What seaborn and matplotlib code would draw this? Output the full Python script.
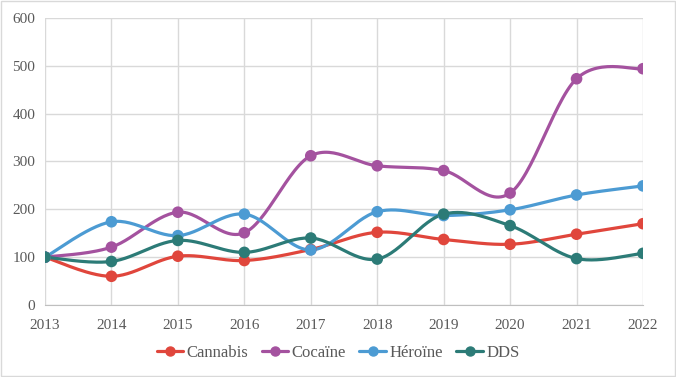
import numpy as np
import pandas as pd
import seaborn as sns
import matplotlib.pyplot as plt
from matplotlib.lines import Line2D

years = [2013, 2014, 2015, 2016, 2017, 2018, 2019, 2020, 2021, 2022]
cannabis = [100, 60, 102, 93, 116, 152, 137, 127, 148, 170]
cocaine = [100, 121, 194, 151, 312, 291, 281, 234, 473, 494]
heroine = [100, 174, 145, 190, 115, 195, 187, 199, 230, 249]
dds = [100, 91, 135, 110, 140, 96, 190, 166, 97, 108]

names = ["Cannabis", "Cocaïne", "Héroïne", "DDS"]
colors = ["#E0463C", "#A4529F", "#4C9BD3", "#2C7B77"]


def smooth(x, y, n=30):
    # Excel-like smoothed line (Catmull-Rom bezier through the points)
    x = np.asarray(x, float)
    y = np.asarray(y, float)
    px = np.concatenate([[x[0]], x, [x[-1]]])
    py = np.concatenate([[y[0]], y, [y[-1]]])
    xs, ys = [], []
    t = np.linspace(0, 1, n)
    for i in range(1, len(px) - 2):
        p0 = np.array([px[i], py[i]])
        p3 = np.array([px[i + 1], py[i + 1]])
        c1 = p0 + (p3 - np.array([px[i - 1], py[i - 1]])) / 6
        c2 = p3 - (np.array([px[i + 2], py[i + 2]]) - p0) / 6
        b = ((1 - t) ** 3)[:, None] * p0 + (3 * (1 - t) ** 2 * t)[:, None] * c1 \
            + (3 * (1 - t) * t ** 2)[:, None] * c2 + (t ** 3)[:, None] * p3
        xs.extend(b[:, 0])
        ys.extend(b[:, 1])
    return xs, ys


series = [cannabis, cocaine, heroine, dds]
rows = []
pts = []
for name, vals in zip(names, series):
    sx, sy = smooth(years, vals)
    rows.append(pd.DataFrame({"x": sx, "y": sy, "serie": name}))
    pts.append(pd.DataFrame({"x": years, "y": vals, "serie": name}))
curves = pd.concat(rows)
points = pd.concat(pts)

sns.set_style("white")
plt.rcParams["font.family"] = ["Liberation Serif", "DejaVu Serif"]

fig = plt.figure(figsize=(6.76, 3.77), dpi=100)
ax = fig.add_axes([45 / 676, 1 - 305 / 377, 598 / 676, 287 / 377])

palette = dict(zip(names, colors))
sns.lineplot(data=curves, x="x", y="y", hue="serie", units="serie", estimator=None,
             sort=False, palette=palette, linewidth=2.3, legend=False, ax=ax, zorder=3)
sns.scatterplot(data=points, x="x", y="y", hue="serie", palette=palette, s=70,
                edgecolor="none", legend=False, ax=ax, zorder=4)

ax.set_xlim(2013, 2022)
ax.set_ylim(0, 600)
ax.set_xticks(years)
ax.set_yticks(range(0, 601, 100))
ax.grid(True, color="#D9D9D9", linewidth=1)
ax.set_axisbelow(True)
for s in ["top", "right", "left"]:
    ax.spines[s].set_visible(False)
ax.spines["bottom"].set_color("#BFBFBF")
ax.tick_params(axis="both", length=0, labelsize=11, labelcolor="#595959")
ax.tick_params(axis="y", pad=7)
ax.tick_params(axis="x", pad=10)
ax.set_xlabel("")
ax.set_ylabel("")

handles = [Line2D([0], [0], color=c, lw=2.3, marker="o", markersize=6.5) for c in colors]
fig.legend(handles, names, loc="center", bbox_to_anchor=(0.5, 1 - 353 / 377), ncol=4,
           frameon=False, fontsize=12, handlelength=1.6, handletextpad=0.2,
           columnspacing=0.8, labelcolor="#595959")

fig.patches.append(plt.Rectangle((0.002, 0.003), 0.996, 0.994, transform=fig.transFigure,
                                 fill=False, edgecolor="#D9D9D9", linewidth=1))

fig.savefig("out.png", dpi=100)
